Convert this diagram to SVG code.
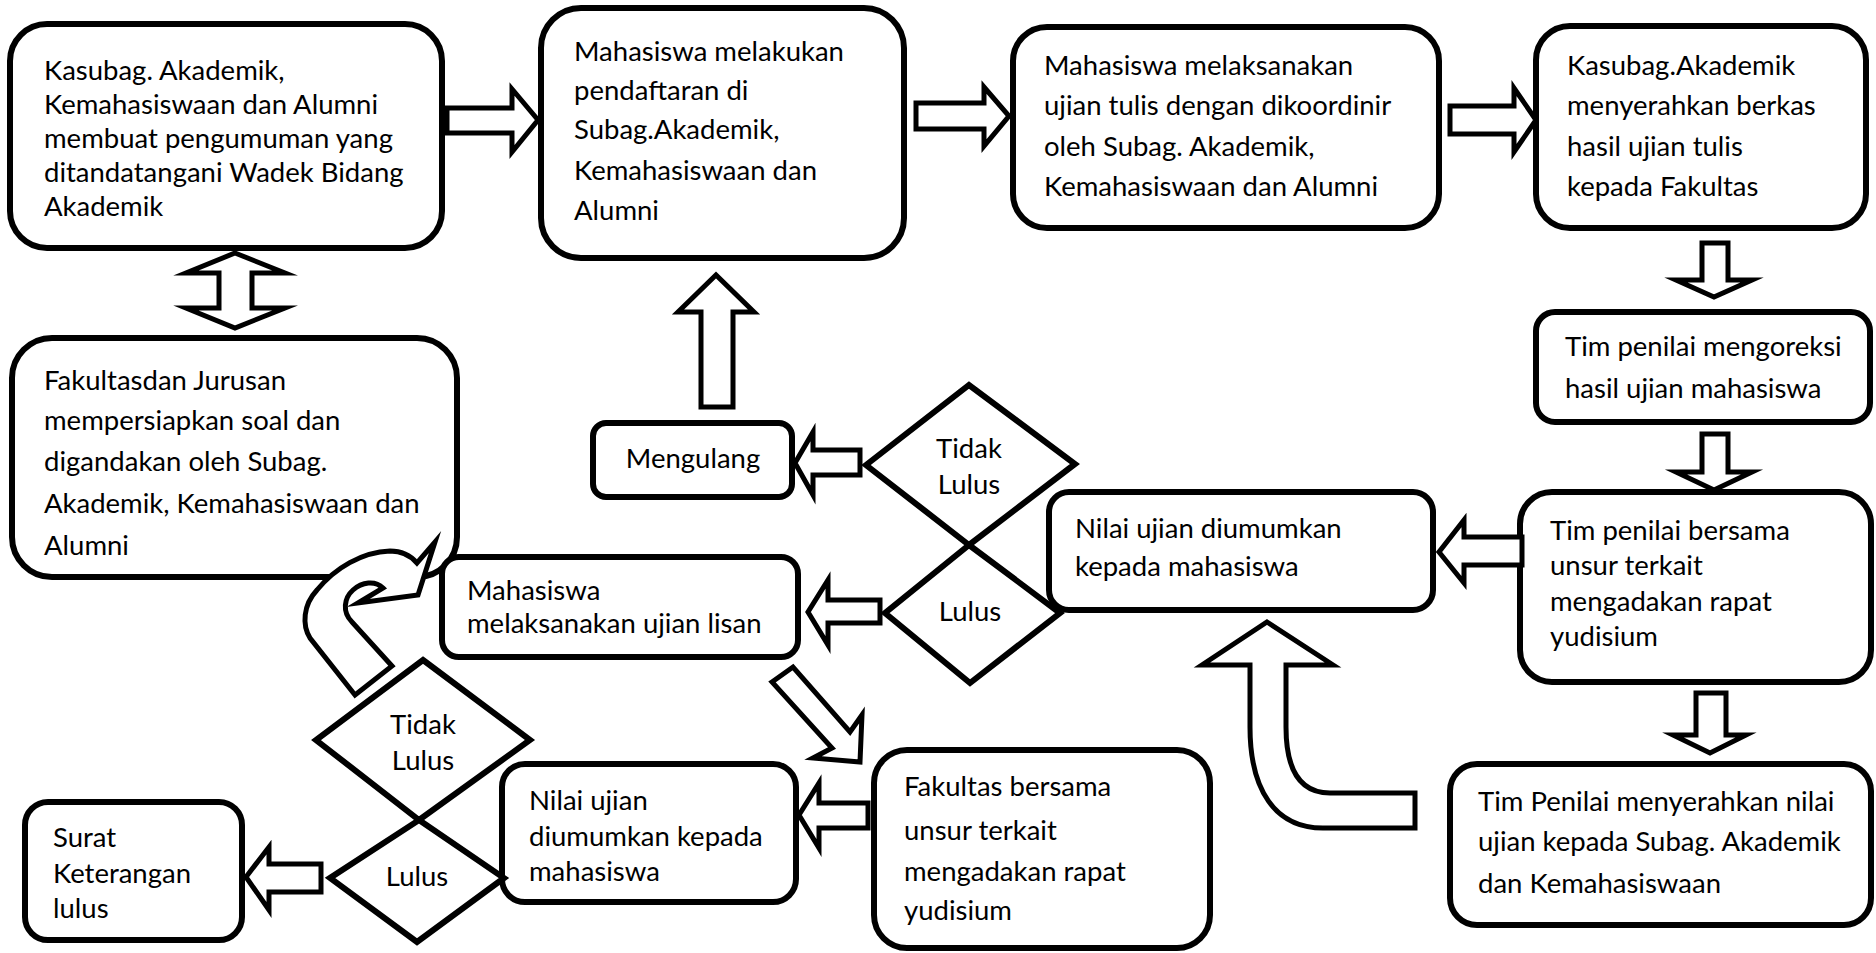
<svg xmlns="http://www.w3.org/2000/svg" width="1876" height="953" viewBox="0 0 1876 953">
  <style>
    .box { fill: #fff; stroke: #000; stroke-width: 6; }
    .dia { fill: #fff; stroke: #000; stroke-width: 6; stroke-linejoin: miter; }
    .arw { fill: #fff; stroke: #000; stroke-width: 5; stroke-linejoin: miter; stroke-miterlimit: 10; }
    text { font-family: Lato, "Open Sans", sans-serif; font-size: 27.5px; fill: #000; }
    .c { text-anchor: middle; }
  </style>
  <rect width="1876" height="953" fill="#fff"/>

  <!-- process boxes -->
  <g id="n-pengumuman">
    <rect class="box" x="10" y="24" width="432" height="224" rx="37"/>
    <text x="44" y="80">Kasubag. Akademik,</text>
    <text x="44" y="114">Kemahasiswaan dan Alumni</text>
    <text x="44" y="148">membuat pengumuman yang</text>
    <text x="44" y="182">ditandatangani Wadek Bidang</text>
    <text x="44" y="216">Akademik</text>
  </g>
  <g id="n-pendaftaran">
    <rect class="box" x="541" y="8" width="363" height="250" rx="40"/>
    <text x="574" y="61">Mahasiswa melakukan</text>
    <text x="574" y="100">pendaftaran di</text>
    <text x="574" y="139">Subag.Akademik,</text>
    <text x="574" y="180">Kemahasiswaan dan</text>
    <text x="574" y="220">Alumni</text>
  </g>
  <g id="n-ujian-tulis">
    <rect class="box" x="1013" y="27" width="426" height="201" rx="34"/>
    <text x="1044" y="75">Mahasiswa melaksanakan</text>
    <text x="1044" y="115">ujian tulis dengan dikoordinir</text>
    <text x="1044" y="156">oleh Subag. Akademik,</text>
    <text x="1044" y="196">Kemahasiswaan dan Alumni</text>
  </g>
  <g id="n-berkas">
    <rect class="box" x="1536" y="26" width="330" height="202" rx="34"/>
    <text x="1567" y="75">Kasubag.Akademik</text>
    <text x="1567" y="115">menyerahkan berkas</text>
    <text x="1567" y="156">hasil ujian tulis</text>
    <text x="1567" y="196">kepada Fakultas</text>
  </g>
  <g id="n-koreksi">
    <rect class="box" x="1536" y="312" width="334" height="110" rx="19"/>
    <text x="1565" y="356">Tim penilai mengoreksi</text>
    <text x="1565" y="398">hasil ujian mahasiswa</text>
  </g>
  <g id="n-yudisium-tim">
    <rect class="box" x="1520" y="492" width="351" height="190" rx="32"/>
    <text x="1550" y="540">Tim penilai bersama</text>
    <text x="1550" y="575">unsur terkait</text>
    <text x="1550" y="611">mengadakan rapat</text>
    <text x="1550" y="646">yudisium</text>
  </g>
  <g id="n-nilai-tulis">
    <rect class="box" x="1049" y="492" width="384" height="118" rx="20"/>
    <text x="1075" y="538">Nilai ujian diumumkan</text>
    <text x="1075" y="576">kepada mahasiswa</text>
  </g>
  <g id="n-serah-nilai">
    <rect class="box" x="1450" y="764" width="421" height="161" rx="27"/>
    <text x="1478" y="811">Tim Penilai menyerahkan nilai</text>
    <text x="1478" y="851">ujian kepada Subag. Akademik</text>
    <text x="1478" y="893">dan Kemahasiswaan</text>
  </g>
  <g id="n-soal">
    <rect class="box" x="12" y="338" width="445" height="239" rx="40"/>
    <text x="44" y="390">Fakultasdan Jurusan</text>
    <text x="44" y="430">mempersiapkan soal dan</text>
    <text x="44" y="471">digandakan oleh Subag.</text>
    <text x="44" y="513">Akademik, Kemahasiswaan dan</text>
    <text x="44" y="555">Alumni</text>
  </g>
  <g id="n-mengulang">
    <rect class="box" x="593" y="423" width="199" height="74" rx="13"/>
    <text class="c" x="693" y="468">Mengulang</text>
  </g>
  <g id="n-yudisium-fak">
    <rect class="box" x="874" y="750" width="336" height="198" rx="33"/>
    <text x="904" y="796">Fakultas bersama</text>
    <text x="904" y="840">unsur terkait</text>
    <text x="904" y="881">mengadakan rapat</text>
    <text x="904" y="920">yudisium</text>
  </g>
  <g id="n-nilai-lisan">
    <rect class="box" x="502" y="764" width="294" height="138" rx="23"/>
    <text x="529" y="810">Nilai ujian</text>
    <text x="529" y="846">diumumkan kepada</text>
    <text x="529" y="881">mahasiswa</text>
  </g>
  <g id="n-surat">
    <rect class="box" x="25" y="802" width="217" height="138" rx="23"/>
    <text x="53" y="847">Surat</text>
    <text x="53" y="883">Keterangan</text>
    <text x="53" y="918">lulus</text>
  </g>

  <!-- decisions -->
  <g id="d-tulis-tidak">
    <polygon class="dia" points="866,465 969,385 1075,464 969,545"/>
    <text class="c" x="969" y="458">Tidak</text>
    <text class="c" x="969" y="494">Lulus</text>
  </g>
  <g id="d-tulis-lulus">
    <polygon class="dia" points="969,545 1060,613 970,683 885,613"/>
    <text class="c" x="970" y="621">Lulus</text>
  </g>
  <g id="d-lisan-tidak">
    <polygon class="dia" points="423,660 530,740 419,820 316,740"/>
    <text class="c" x="423" y="734">Tidak</text>
    <text class="c" x="423" y="770">Lulus</text>
  </g>
  <g id="d-lisan-lulus">
    <polygon class="dia" points="419,820 504,878 417,942 330,878"/>
    <text class="c" x="417" y="886">Lulus</text>
  </g>

  <!-- block arrows -->
  <g id="connectors">
    <polygon class="arw" points="447,108 512,108 512,89 538,120 512,152 512,133 447,133"/>
    <polygon class="arw" points="916,103 984,103 984,87 1009,116 984,146 984,129 916,129"/>
    <polygon class="arw" points="1450,106 1514,106 1514,88 1536,120 1514,152 1514,134 1450,134"/>
    <polygon class="arw" points="1702,243 1728,243 1728,280 1752,280 1714,297 1676,280 1702,280"/>
    <polygon class="arw" points="1702,434 1728,434 1728,472 1752,472 1714,490 1676,472 1702,472"/>
    <polygon class="arw" points="1522,537 1464,537 1464,520 1439,552 1464,583 1464,565 1522,565"/>
    <polygon class="arw" points="1696,693 1726,693 1726,735 1746,735 1710,753 1673,735 1696,735"/>
    <path class="arw" d="M1267,622 L1333,665 L1286,665 L1286,727 C1286,770 1300,793 1330,793 L1415,793 L1415,828 L1323,828 C1275,828 1250,790 1250,727 L1250,665 L1202,665 Z"/>
    <polygon class="arw" points="860,450 813,450 813,432 795,463 813,495 813,475 860,475"/>
    <polygon class="arw" points="701,407 701,312 678,312 716,275 754,312 733,312 733,407"/>
    <polygon class="arw" points="880,600 828,600 828,580 808,612 828,645 828,623 880,623"/>
    <polygon class="arw" points="772,682 793,667 850,732 862,715 860,762 813,758 832,748"/>
    <polygon class="arw" points="868,803 819,803 819,783 799,815 819,848 819,828 868,828"/>
    <polygon class="arw" points="321,864 269,864 269,847 246,877 269,910 269,892 321,892"/>
    <polygon class="arw" points="235,253 285,273 252,273 252,308 285,308 235,328 186,308 219,308 219,273 186,273"/>
    <path class="arw" d="M355,695 L310,638 C302,625 303,605 317,590 C335,568 362,552 390,551 C402,551 411,556 417,563 L435,542 L418,595 L358,603 L383,588 C375,580 362,582 353,590 C344,598 342,612 352,622 L392,666 Z"/>
  </g>

  <g id="n-ujian-lisan">
    <rect class="box" x="442" y="557" width="356" height="100" rx="17"/>
    <text x="467" y="600">Mahasiswa</text>
    <text x="467" y="633">melaksanakan ujian lisan</text>
  </g>
</svg>
